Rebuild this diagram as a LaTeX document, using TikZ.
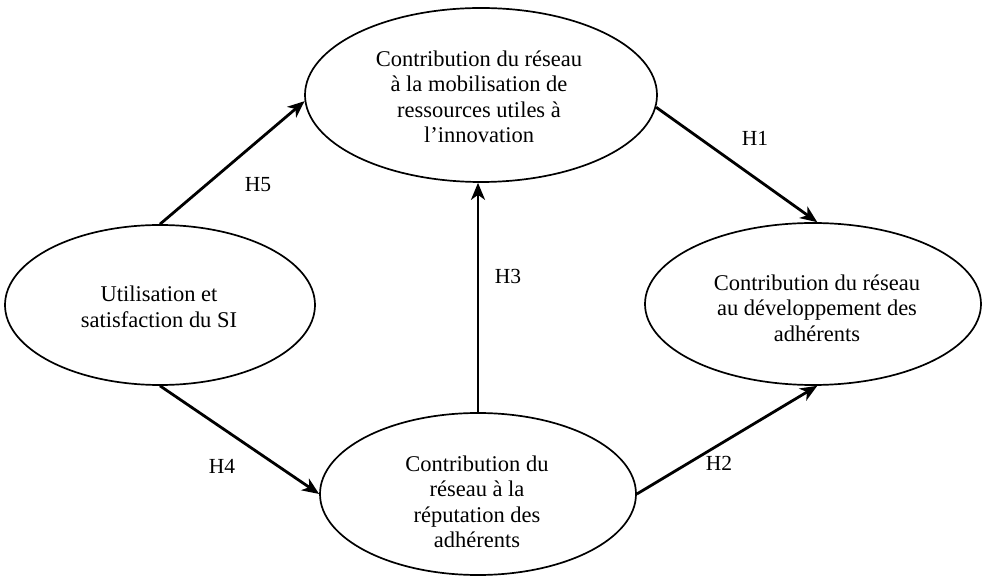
\documentclass[tikz,border=0pt]{standalone}
\usepackage{fontspec}
\setmainfont{Liberation Serif}
\usetikzlibrary{arrows.meta,shapes.geometric}
\begin{document}
\begin{tikzpicture}[x=1pt,y=1pt,
  oval/.style={draw, ellipse, line width=1.7pt, inner sep=0pt},
  txt/.style={font=\fontsize{22.5}{25.5}\selectfont, align=center, inner sep=0pt},
  arr/.style={line width=2.8pt, -{Stealth[length=17pt,width=14pt,inset=5pt]}},
  hyp/.style={font=\fontsize{21.5}{24}\selectfont, inner sep=0pt}]
\useasboundingbox (0,0) rectangle (983,576);
\fill[white] (0,0) rectangle (983,576);

% constructs
\node[oval, minimum width=352pt, minimum height=174pt] (top) at (481,481) {};
\node[oval, minimum width=310pt, minimum height=160pt] (left) at (160,271) {};
\node[oval, minimum width=336pt, minimum height=162pt] (right) at (813,272) {};
\node[oval, minimum width=316pt, minimum height=162pt] (bottom) at (478,82) {};

\node[txt] (top-t) at (479,479) {Contribution du réseau\\à la mobilisation de\\ressources utiles à\\l'innovation};
\node[txt] (left-t) at (159,269) {Utilisation et\\satisfaction du SI};
\node[txt] (right-t) at (817,268) {Contribution du réseau\\au développement des\\adhérents};
\node[txt] (bottom-t) at (477,74) {Contribution du\\réseau à la\\réputation des\\adhérents};

% hypotheses
\draw[arr] (left.north) -- (top.182);
\draw[arr] (top.-4) -- (right.87);
\draw[arr] (bottom.north) -- (bottom.north |- top.south);
\draw[arr] (left.south) -- (bottom.west);
\draw[arr] (bottom.east) -- (right.-87);

\node[hyp] (h5) at (258,391) {H5};
\node[hyp] (h1) at (755,438) {H1};
\node[hyp] (h3) at (508,300) {H3};
\node[hyp] (h4) at (222,110) {H4};
\node[hyp] (h2) at (719,113) {H2};
\end{tikzpicture}
\end{document}
